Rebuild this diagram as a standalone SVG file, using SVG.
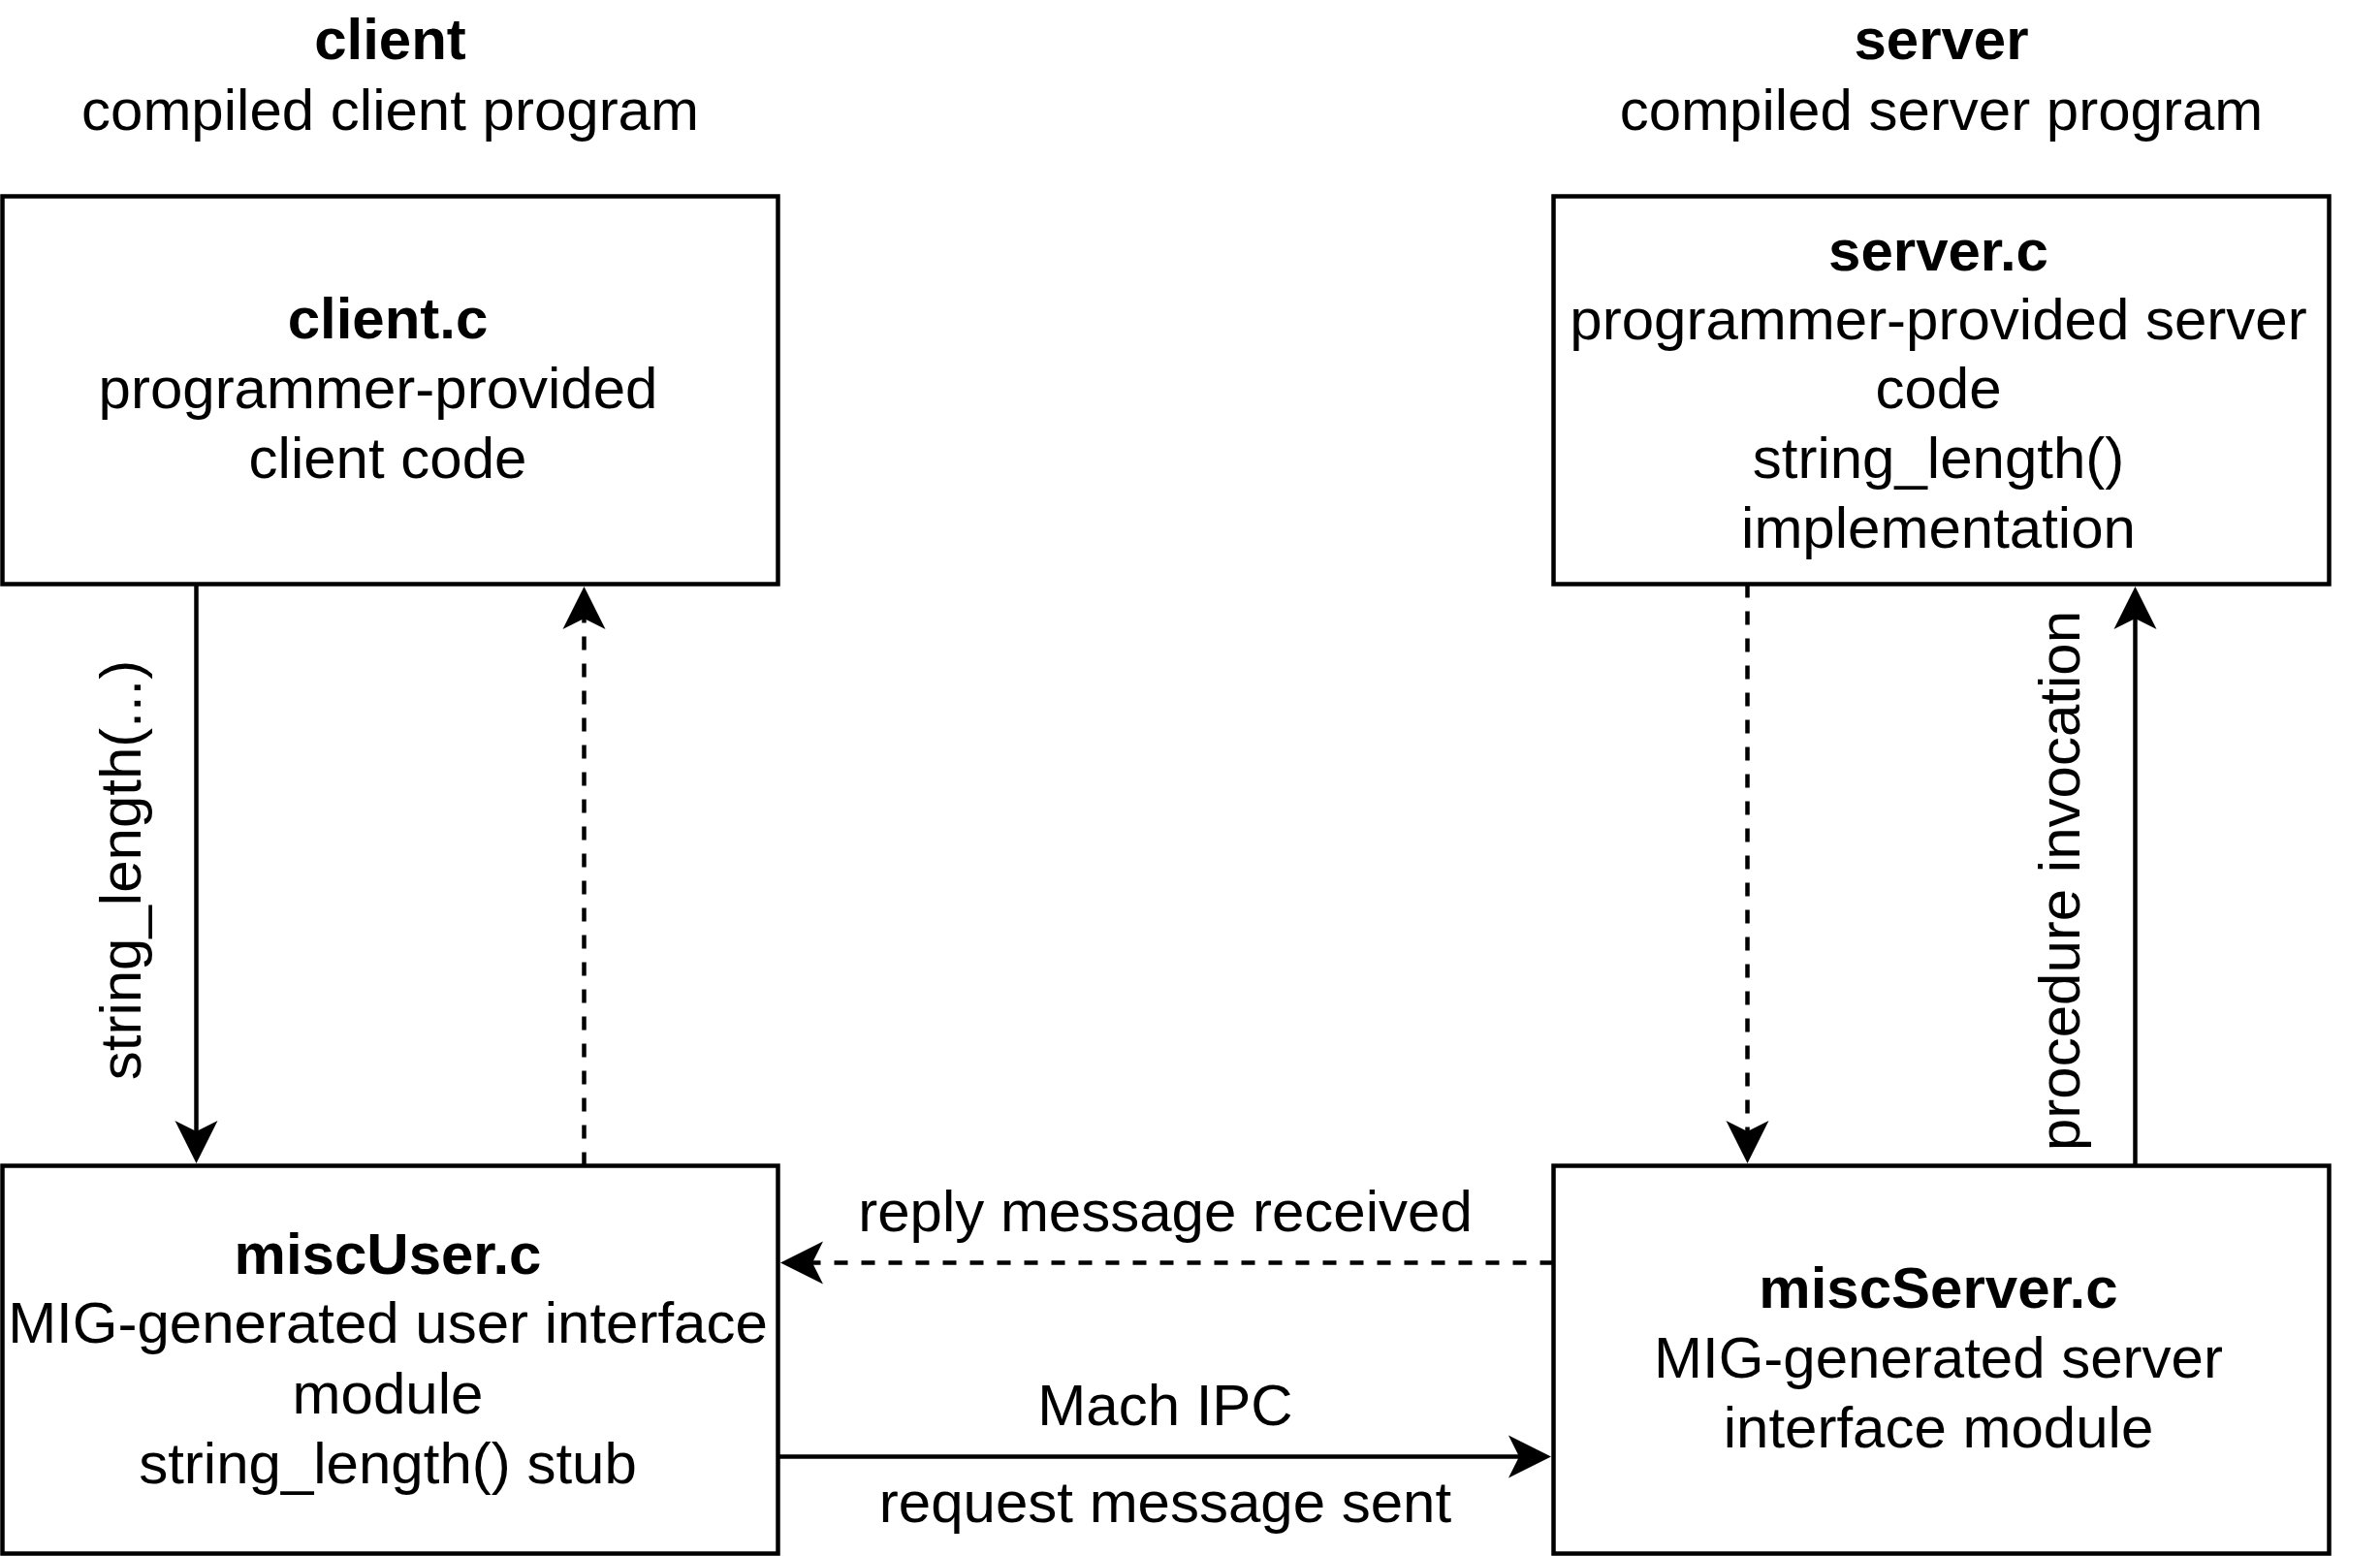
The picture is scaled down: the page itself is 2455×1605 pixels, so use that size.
<svg xmlns="http://www.w3.org/2000/svg" width="2455" height="1605" viewBox="0 0 2455 1605">
<style>
.box{fill:#ffffff;stroke:#000000;stroke-width:4.5}
.t{font-family:"Liberation Sans",Arial,Helvetica,sans-serif;font-size:60px;fill:#000000;text-anchor:middle}
.b{font-weight:bold}
.edge{fill:none;stroke:#000000;stroke-width:4.5}
.dash{stroke-dasharray:14 14}
</style>
<defs>
<marker id="arrow" markerUnits="userSpaceOnUse" viewBox="-12 -23 46 46" markerWidth="46" markerHeight="46" refX="0" refY="0" orient="auto">
<path d="M33,0 L-11,-22 L0,0 L-11,22 Z" fill="#000000" stroke="none"/>
</marker>
</defs>
<rect width="2455" height="1605" fill="#ffffff"/>
<g id="title-client">
<text class="t b" x="402.5" y="61">client</text>
<text class="t" x="402.5" y="133.5">compiled client program</text>
</g>
<g id="title-server">
<text class="t b" x="2002.5" y="61">server</text>
<text class="t" x="2002.5" y="133.5">compiled server program</text>
</g>
<g id="connectors">
<line class="edge" x1="202.5" y1="602.5" x2="202.5" y2="1167" marker-end="url(#arrow)"/>
<line class="edge dash" x1="602.5" y1="1202.5" x2="602.5" y2="638" marker-end="url(#arrow)"/>
<line class="edge dash" x1="1802.5" y1="602.5" x2="1802.5" y2="1167" marker-end="url(#arrow)"/>
<line class="edge" x1="2202.5" y1="1202.5" x2="2202.5" y2="638" marker-end="url(#arrow)"/>
<line class="edge dash" x1="1602.5" y1="1302.5" x2="838" y2="1302.5" marker-end="url(#arrow)"/>
<line class="edge" x1="802.5" y1="1502.5" x2="1567" y2="1502.5" marker-end="url(#arrow)"/>
<text class="t" transform="translate(145,897.5) rotate(-90)">string_length(...)</text>
<text class="t" transform="translate(2145,908.5) rotate(-90)">procedure invocation</text>
<text class="t" x="1202" y="1269.5">reply message received</text>
<text class="t" x="1202" y="1469.5">Mach IPC</text>
<text class="t" x="1202" y="1569.5">request message sent</text>
</g>
<g id="client-c">
<rect class="box" x="2.5" y="202.5" width="800" height="400"/>
<text class="t b" x="400" y="349">client.c</text>
<text class="t" x="390" y="421">programmer-provided</text>
<text class="t" x="400" y="493">client code</text>
</g>
<g id="server-c">
<rect class="box" x="1602.5" y="202.5" width="800" height="400"/>
<text class="t b" x="1999.5" y="279">server.c</text>
<text class="t" x="1999.5" y="350">programmer-provided server</text>
<text class="t" x="1999.5" y="421">code</text>
<text class="t" x="1999.5" y="493">string_length()</text>
<text class="t" x="1999.5" y="565">implementation</text>
</g>
<g id="miscUser-c">
<rect class="box" x="2.5" y="1202.5" width="800" height="400"/>
<text class="t b" x="400" y="1314">miscUser.c</text>
<text class="t" x="400" y="1385">MIG-generated user interface</text>
<text class="t" x="400" y="1458">module</text>
<text class="t" x="400" y="1530">string_length() stub</text>
</g>
<g id="miscServer-c">
<rect class="box" x="1602.5" y="1202.5" width="800" height="400"/>
<text class="t b" x="1999.5" y="1349">miscServer.c</text>
<text class="t" x="1999.5" y="1421">MIG-generated server</text>
<text class="t" x="1999.5" y="1493">interface module</text>
</g>
</svg>
